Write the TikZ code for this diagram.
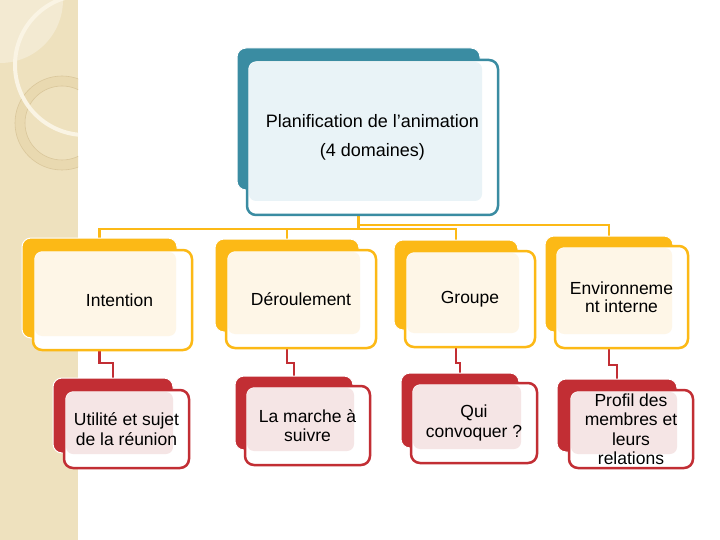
\documentclass[tikz,border=0pt]{standalone}
\usepackage{fontspec}
\setmainfont{Liberation Sans}
\usepackage{tikz}
\usetikzlibrary{backgrounds}

\definecolor{tealB}{RGB}{58,140,162}
\definecolor{topL}{RGB}{233,243,247}
\definecolor{orangeC}{RGB}{252,185,22}
\definecolor{creamC}{RGB}{254,246,231}
\definecolor{redC}{RGB}{194,46,52}
\definecolor{pinkC}{RGB}{245,229,229}
\definecolor{beigeC}{RGB}{238,225,190}
\definecolor{beigeL}{RGB}{243,234,210}
\definecolor{ringC}{RGB}{233,217,176}
\definecolor{ringL}{RGB}{218,199,155}
\definecolor{arcC}{RGB}{250,244,228}

\begin{document}
\begin{tikzpicture}[
  x=1pt, y=-1pt,
  back/.style={rounded corners=9pt, draw=white, line width=1pt,
               inner sep=0pt, outer sep=0pt},
  front/.style={rounded corners=9pt, fill=white, line width=2.5pt,
                inner sep=0pt, outer sep=0pt, anchor=north west,
                align=center, font=\fontsize{17.5}{19.5}\selectfont,
                path picture={\fill[#1, rounded corners=7pt]
                  ([shift={(2pt,-2pt)}]path picture bounding box.north west)
                  rectangle
                  ([shift={(-16pt,14pt)}]path picture bounding box.south east);}},
  tbox/.style={back, fill=tealB},
  tfront/.style={front=topL, draw=tealB},
  obox/.style={back, fill=orangeC},
  ofront/.style={front=creamC, draw=orangeC},
  rbox/.style={back, fill=redC},
  rfront/.style={front=pinkC, draw=redC},
  oline/.style={draw=orangeC, line width=2.5pt},
  rline/.style={draw=redC, line width=2.5pt}
]
\useasboundingbox (0,0) rectangle (720,540);
\begin{pgfonlayer}{background}
  \fill[white] (0,0) rectangle (720,540);
\end{pgfonlayer}

% left strip
\begin{scope}
  \clip (0,0) rectangle (78,540);
  \fill[beigeC] (0,0) rectangle (78,540);
  \fill[beigeL] (0,0) circle (63pt);
  \fill[ringC, even odd rule] (62,123) circle (47pt) (62,123) circle (37pt);
  \draw[ringL, line width=0.6pt] (62,123) circle (47pt) (62,123) circle (37pt);
  \draw[arcC, line width=4pt] (85,65) circle (70pt);
\end{scope}

% top
\node[tbox, minimum width=243pt, minimum height=142pt] (plan) at (358.5,119) {};
\node[tfront, minimum width=251pt, minimum height=155pt,
      font=\fontsize{18}{29}\selectfont]
  (planF) at ([shift={(10pt,-12pt)}]plan.north west)
  {Planification de l’animation\\(4 domaines)};

% domains
\node[obox, minimum width=155pt, minimum height=100pt] (intention) at (99.5,288) {};
\node[ofront, minimum width=159pt, minimum height=100pt]
  (intentionF) at ([shift={(11pt,-12pt)}]intention.north west) {\hspace*{14pt}Intention};

\node[obox, minimum width=144pt, minimum height=93pt] (deroulement) at (287,285.5) {};
\node[ofront, minimum width=150pt, minimum height=98pt]
  (deroulementF) at ([shift={(11pt,-11pt)}]deroulement.north west) {Déroulement};

\node[obox, minimum width=124pt, minimum height=90pt] (groupe) at (456,285) {};
\node[ofront, minimum width=130pt, minimum height=96pt]
  (groupeF) at ([shift={(11pt,-11pt)}]groupe.north west) {Groupe};

\node[obox, minimum width=128pt, minimum height=96pt] (environ) at (609,284) {};
\node[ofront, minimum width=133pt, minimum height=102pt,
      font=\fontsize{17.5}{18}\selectfont]
  (environF) at ([shift={(10pt,-10pt)}]environ.north west) {Environneme\\nt interne};

% details
\node[rbox, minimum width=120pt, minimum height=75pt] (utilite) at (113,415.5) {};
\node[rfront, minimum width=125pt, minimum height=78pt]
  (utiliteF) at ([shift={(11pt,-12pt)}]utilite.north west) {Utilité et sujet\\de la réunion};

\node[rbox, minimum width=118pt, minimum height=74pt] (marche) at (294,413) {};
\node[rfront, minimum width=125pt, minimum height=79pt]
  (marcheF) at ([shift={(10pt,-10pt)}]marche.north west) {La marche à\\suivre};

\node[rbox, minimum width=118pt, minimum height=75pt] (qui) at (460,410.5) {};
\node[rfront, minimum width=126pt, minimum height=80pt]
  (quiF) at ([shift={(10pt,-10pt)}]qui.north west) {Qui\\convoquer ?};

\node[rbox, minimum width=120pt, minimum height=73pt] (profil) at (617,415.5) {};
\node[rfront, minimum width=124pt, minimum height=78pt]
  (profilF) at ([shift={(12pt,-11pt)}]profil.north west)
  {Profil des\\membres et\\leurs\\relations};

% links
\begin{pgfonlayer}{background}
  \draw[oline] (plan.south) -- ++(0,39) -| (intention.north);
  \draw[oline] (plan.south) -- ++(0,39) -| (deroulement.north);
  \draw[oline] (plan.south) -- ++(0,39) -| (groupe.north);
  \draw[oline] (plan.south) -- ++(0,35) -| (environ.north);
  \draw[rline] (intention.south) -- ++(0,25) -| (utilite.north);
  \draw[rline] (deroulement.south) -- ++(0,31) -| (marche.north);
  \draw[rline] (groupe.south) -- ++(0,33) -| (qui.north);
  \draw[rline] (environ.south) -- ++(0,33) -| (profil.north);
\end{pgfonlayer}
\end{tikzpicture}
\end{document}
